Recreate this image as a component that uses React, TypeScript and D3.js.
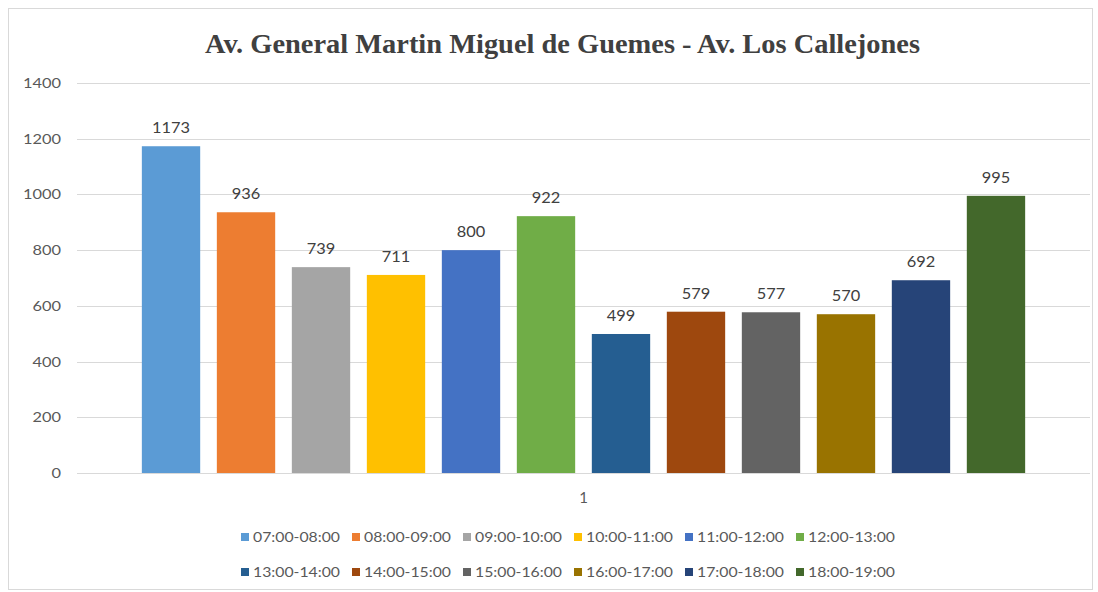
import React from "react";
import * as d3 from "d3";

const categories = ["1"];
const seriesNames = [
  "07:00-08:00", "08:00-09:00", "09:00-10:00", "10:00-11:00", "11:00-12:00", "12:00-13:00",
  "13:00-14:00", "14:00-15:00", "15:00-16:00", "16:00-17:00", "17:00-18:00", "18:00-19:00",
];
const seriesValues = [1173, 936, 739, 711, 800, 922, 499, 579, 577, 570, 692, 995];
const seriesColors = [
  "#5B9BD5", "#ED7D31", "#A5A5A5", "#FFC000", "#4472C4", "#70AD47",
  "#255E91", "#9E480E", "#636363", "#997300", "#264478", "#43682B",
];
const yTicks = [0, 200, 400, 600, 800, 1000, 1200, 1400];
const title = "Av. General Martin Miguel de Guemes - Av. Los Callejones";

const W = 1098;
const H = 592;
const plotL = 77;
const plotR = 1090;
const plotT = 83;
const plotB = 473;
const font = "Lato, 'Open Sans', sans-serif";
const textGray = "#595959";
const digitW = 9.5;

export default function App() {
  const y = d3.scaleLinear().domain([0, 1400]).range([plotB, plotT]);
  const x0 = d3.scaleBand().domain(categories).range([plotL, plotR]).paddingInner(0).paddingOuter(0.0628);
  const x1 = d3.scaleBand().domain(seriesNames).range([0, x0.bandwidth()]).paddingInner(0.222).paddingOuter(0.111);

  const legendX0 = 241;
  const legendStep = 111;
  const legendRows = [537, 572];

  return (
    <svg width={W} height={H} style={{ position: "absolute", left: 0, top: 0 }}>
      <rect x={0} y={0} width={W} height={H} fill="#ffffff" />
      <rect x={8.5} y={8.5} width={1084} height={581} fill="#ffffff" stroke="#d9d9d9" strokeWidth={1} />
      <text
        x={205}
        y={53}
        textLength={715}
        lengthAdjust="spacingAndGlyphs"
        fontFamily="'Liberation Serif', 'Times New Roman', serif"
        fontWeight="bold"
        fontSize={28}
        fill="#404040"
      >
        {title}
      </text>
      {yTicks.map((t) => {
        const label = String(t);
        return (
          <g key={t}>
            <line x1={plotL} x2={plotR} y1={Math.round(y(t)) + 0.5} y2={Math.round(y(t)) + 0.5} stroke="#d9d9d9" strokeWidth={1} />
            <text
              x={61 - label.length * digitW}
              y={y(t) + 5}
              textLength={label.length * digitW}
              lengthAdjust="spacingAndGlyphs"
              fontFamily={font}
              fontSize={14}
              fill={textGray}
            >
              {label}
            </text>
          </g>
        );
      })}
      {categories.map((c) => (
        <g key={c}>
          {seriesNames.map((s, i) => {
            const bx = (x0(c) as number) + (x1(s) as number);
            const bw = x1.bandwidth();
            const v = seriesValues[i];
            const label = String(v);
            const lw = label.length * digitW;
            return (
              <g key={s}>
                <rect x={bx} y={y(v)} width={bw} height={plotB - y(v)} fill={seriesColors[i]} />
                <text
                  x={bx + bw / 2 - lw / 2}
                  y={y(v) - 13}
                  textLength={lw}
                  lengthAdjust="spacingAndGlyphs"
                  fontFamily={font}
                  fontSize={15}
                  fill="#404040"
                >
                  {label}
                </text>
              </g>
            );
          })}
          <text x={(x0(c) as number) + x0.bandwidth() / 2} y={503} textAnchor="middle" fontFamily={font} fontSize={15} fill={textGray}>
            {c}
          </text>
        </g>
      ))}
      {seriesNames.map((s, i) => {
        const row = Math.floor(i / 6);
        const col = i % 6;
        const lx = legendX0 + col * legendStep;
        const ly = legendRows[row];
        return (
          <g key={s}>
            <rect x={lx} y={ly - 4} width={8} height={8} fill={seriesColors[i]} />
            <text
              x={lx + 12}
              y={ly + 5}
              textLength={87}
              lengthAdjust="spacingAndGlyphs"
              fontFamily={font}
              fontSize={14}
              fill={textGray}
            >
              {s}
            </text>
          </g>
        );
      })}
    </svg>
  );
}
